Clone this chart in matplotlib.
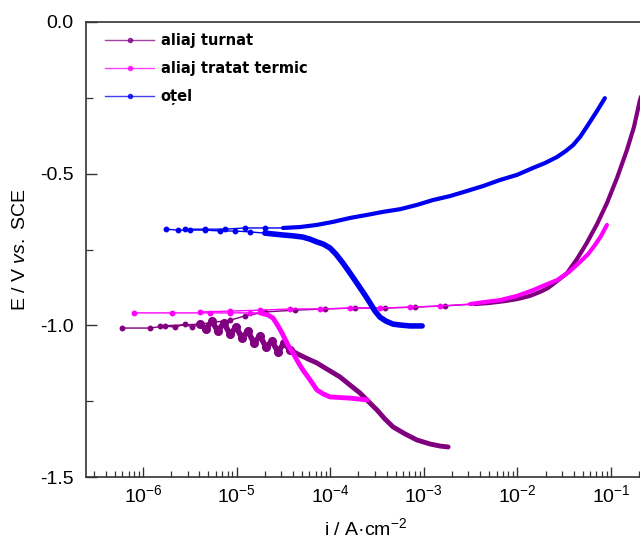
import numpy as np
import matplotlib
matplotlib.use('Agg')
import matplotlib.pyplot as plt
import matplotlib.lines as mlines
from matplotlib.ticker import FixedLocator, LogLocator, MultipleLocator, FormatStrFormatter, NullFormatter

plt.rcParams['font.family'] = ['Liberation Sans', 'DejaVu Sans']
plt.rcParams['mathtext.fontset'] = 'custom'
plt.rcParams['mathtext.rm'] = 'Liberation Sans'
plt.rcParams['mathtext.it'] = 'Liberation Sans:italic'
plt.rcParams['axes.unicode_minus'] = False

# polarization curves, i in A/cm2, E in V vs SCE (cathodic branch, then anodic branch)
turnat_cat_i = [1.82e-3, 1.49e-3, 1.16e-3, 8.45e-4, 6.3e-4, 4.7e-4, 3.85e-4, 3.16e-4, 2.54e-4, 2.08e-4, 1.63e-4,
                1.27e-4, 9.2e-5, 7.2e-5, 5.8e-5, 4.75e-5, 3.72e-5,
                3.21e-5, 2.77e-5, 2.39e-5, 2.06e-5, 1.78e-5, 1.53e-5, 1.32e-5, 1.14e-5, 9.9e-6, 8.5e-6, 7.3e-6,
                6.3e-6, 5.45e-6, 4.7e-6, 4.07e-6,
                3.34e-6, 2.81e-6, 2.2e-6, 1.72e-6, 1.19e-6, 6.0e-7]
turnat_cat_E = [-1.401, -1.398, -1.391, -1.378, -1.358, -1.335, -1.309, -1.279, -1.250, -1.223, -1.197,
                -1.170, -1.144, -1.124, -1.111, -1.098, -1.081,
                -1.058, -1.088, -1.052, -1.072, -1.035, -1.058, -1.019, -1.042, -1.006, -1.029, -0.992,
                -1.019, -0.986, -1.012, -0.996,
                -1.006, -0.996, -1.006, -1.002, -1.009, -1.009]
turnat_an_i = [1.52e-6, 4.07e-6, 8.5e-6, 1.23e-5, 2.0e-5, 4.2e-5, 8.8e-5, 1.84e-4, 3.85e-4, 8.05e-4, 1.68e-3,
               3.5e-3, 5.1e-3, 7.4e-3, 1.01e-2, 1.36e-2, 1.74e-2, 2.12e-2, 2.65e-2, 3.39e-2, 4.34e-2, 5.5e-2,
               7.1e-2, 9.05e-2, 0.116, 0.148, 0.176, 0.204, 0.248]
turnat_an_E = [-1.002, -0.996, -0.983, -0.969, -0.956, -0.950, -0.946, -0.943, -0.943, -0.940, -0.936,
               -0.930, -0.926, -0.920, -0.913, -0.903, -0.890, -0.877, -0.854, -0.828, -0.781, -0.729,
               -0.666, -0.597, -0.514, -0.422, -0.346, -0.257, -0.175]

tratat_cat_i = [2.5e-4, 1.63e-4, 1.27e-4, 9.95e-5, 8.4e-5, 7.2e-5, 6.1e-5, 5.1e-5, 4.53e-5, 4.0e-5, 3.54e-5,
                3.05e-5, 2.77e-5, 2.45e-5, 2.16e-5, 1.78e-5,
                1.39e-5, 8.5e-6, 5.2e-6, 2.04e-6, 8.0e-7]
tratat_cat_E = [-1.246, -1.240, -1.238, -1.236, -1.226, -1.213, -1.180, -1.147, -1.121, -1.091, -1.065,
                -1.025, -1.002, -0.976, -0.966, -0.959,
                -0.959, -0.959, -0.959, -0.959, -0.959]
tratat_an_i = [4.07e-6, 8.5e-6, 1.78e-5, 3.72e-5, 7.8e-5, 1.63e-4, 3.4e-4, 7.1e-4, 1.49e-3,
               3.1e-3, 4.5e-3, 6.5e-3, 9.9e-3, 1.47e-2, 1.97e-2, 2.65e-2, 3.56e-2, 4.67e-2, 5.7e-2, 6.75e-2,
               7.8e-2, 9.05e-2]
tratat_an_E = [-0.956, -0.953, -0.950, -0.946, -0.946, -0.943, -0.943, -0.940, -0.936,
               -0.930, -0.923, -0.917, -0.903, -0.884, -0.867, -0.851, -0.824, -0.791, -0.765, -0.735,
               -0.706, -0.669]

otel_cat_i = [9.6e-4, 7.1e-4, 5.6e-4, 4.7e-4, 3.94e-4, 3.4e-4, 3.01e-4, 2.66e-4, 2.35e-4, 1.93e-4, 1.63e-4,
              1.37e-4, 1.15e-4, 9.95e-5, 8.4e-5, 7.2e-5, 6.1e-5, 5.1e-5, 4.0e-5, 3.1e-5, 2.0e-5,
              1.39e-5, 9.6e-6, 6.65e-6, 4.6e-6, 3.2e-6, 2.37e-6, 1.76e-6]
otel_cat_E = [-1.002, -1.002, -0.999, -0.996, -0.986, -0.973, -0.953, -0.926, -0.900, -0.861, -0.828,
              -0.795, -0.765, -0.745, -0.732, -0.725, -0.716, -0.709, -0.705, -0.702, -0.696,
              -0.692, -0.689, -0.689, -0.686, -0.686, -0.686, -0.683]
otel_an_i = [2.8e-6, 4.6e-6, 7.5e-6, 1.23e-5, 2.0e-5, 3.13e-5, 4.75e-5, 7.2e-5, 1.07e-4, 1.63e-4, 2.47e-4,
             3.66e-4, 5.6e-4, 8.45e-4, 1.25e-3, 1.9e-3, 2.9e-3, 4.28e-3, 6.5e-3, 9.9e-3, 1.47e-2, 1.97e-2,
             2.65e-2, 3.3e-2, 3.93e-2, 4.67e-2, 5.5e-2, 7.1e-2, 8.6e-2]
otel_an_E = [-0.683, -0.683, -0.683, -0.679, -0.679, -0.679, -0.676, -0.669, -0.659, -0.646, -0.636,
             -0.626, -0.617, -0.603, -0.587, -0.574, -0.557, -0.541, -0.521, -0.504, -0.481, -0.465,
             -0.445, -0.425, -0.406, -0.379, -0.346, -0.293, -0.251]

labels = ['aliaj turnat', 'aliaj tratat termic', 'oțel']
colors = ['#800080', '#ff00ff', '#0000f0']

fig = plt.figure(figsize=(6.4, 5.47), dpi=100)
ax = fig.add_axes([86 / 640, 1 - 477 / 547, 560 / 640, 455 / 547])


def draw_branch(i, E, color, dense, lw_dense=3.0):
    # dense: slice of points recorded so closely that they merge into a thick line
    i = np.array(i)
    E = np.array(E)
    n = len(i)
    sparse = [k for k in range(n) if k not in range(n)[dense]]
    ax.plot(i, E, color=color, lw=1.0, zorder=3)
    ax.plot(i[sparse], E[sparse], ls='none', marker='o', ms=3.2, mec=color, mfc=color, zorder=3)
    ax.plot(i[dense], E[dense], color=color, lw=lw_dense, solid_capstyle='round',
            solid_joinstyle='round', zorder=4)


# aliaj turnat, with the noisy region near Ecorr
draw_branch(turnat_cat_i, turnat_cat_E, colors[0], slice(0, 17), lw_dense=3.5)
ax.plot(turnat_cat_i[16:32], turnat_cat_E[16:32], color=colors[0], lw=4, marker='o', ms=5.5,
        solid_joinstyle='round', zorder=4)
draw_branch(turnat_an_i, turnat_an_E, colors[0], slice(11, None), lw_dense=3.0)

# aliaj tratat termic
draw_branch(tratat_cat_i, tratat_cat_E, colors[1], slice(0, 16), lw_dense=3.5)
draw_branch(tratat_an_i, tratat_an_E, colors[1], slice(9, None), lw_dense=3.0)

# otel
draw_branch(otel_cat_i, otel_cat_E, colors[2], slice(0, 21), lw_dense=4.0)
draw_branch(otel_an_i, otel_an_E, colors[2], slice(5, None), lw_dense=3.0)

ax.set_xscale('log')
ax.set_xlim(2.46e-7, 0.2366)
ax.set_ylim(-1.5, 0.0)

ax.xaxis.set_major_locator(FixedLocator([1e-6, 1e-5, 1e-4, 1e-3, 1e-2, 1e-1]))
ax.xaxis.set_minor_locator(LogLocator(base=10, subs=np.arange(2, 10), numticks=20))
ax.xaxis.set_minor_formatter(NullFormatter())
ax.yaxis.set_major_locator(MultipleLocator(0.5))
ax.yaxis.set_minor_locator(MultipleLocator(0.25))
ax.yaxis.set_major_formatter(FormatStrFormatter('%.1f'))

ax.tick_params(axis='both', which='both', direction='in', top=False, right=False,
               colors='#333333', labelcolor='black', labelsize=14)
ax.tick_params(axis='x', which='major', length=7, width=1, pad=5)
ax.tick_params(axis='x', which='minor', length=4, width=0.9)
ax.tick_params(axis='y', which='major', length=8, width=1, pad=9)
ax.tick_params(axis='y', which='minor', length=5, width=0.9)

for side in ['left', 'bottom', 'top']:
    ax.spines[side].set_color('#333333')
    ax.spines[side].set_linewidth(1.2)
ax.spines['right'].set_visible(False)

ax.set_xlabel('i / A·cm$^{-2}$', fontsize=14, labelpad=8)
ax.set_ylabel('E / V $\\it{vs.}$ SCE', fontsize=14, labelpad=8)

handles = [mlines.Line2D([], [], color=c, lw=1.0, alpha=0.75, marker='o', ms=3, mfc=c, mec=c) for c in colors]
ax.legend(handles, labels, loc='upper left', bbox_to_anchor=(0.01, 1.005), frameon=False,
          handlelength=3.4, handletextpad=0.45, labelspacing=0.9, numpoints=1,
          prop={'family': 'DejaVu Sans', 'weight': 'bold', 'size': 10.5})

fig.savefig('out.png', dpi=100)
